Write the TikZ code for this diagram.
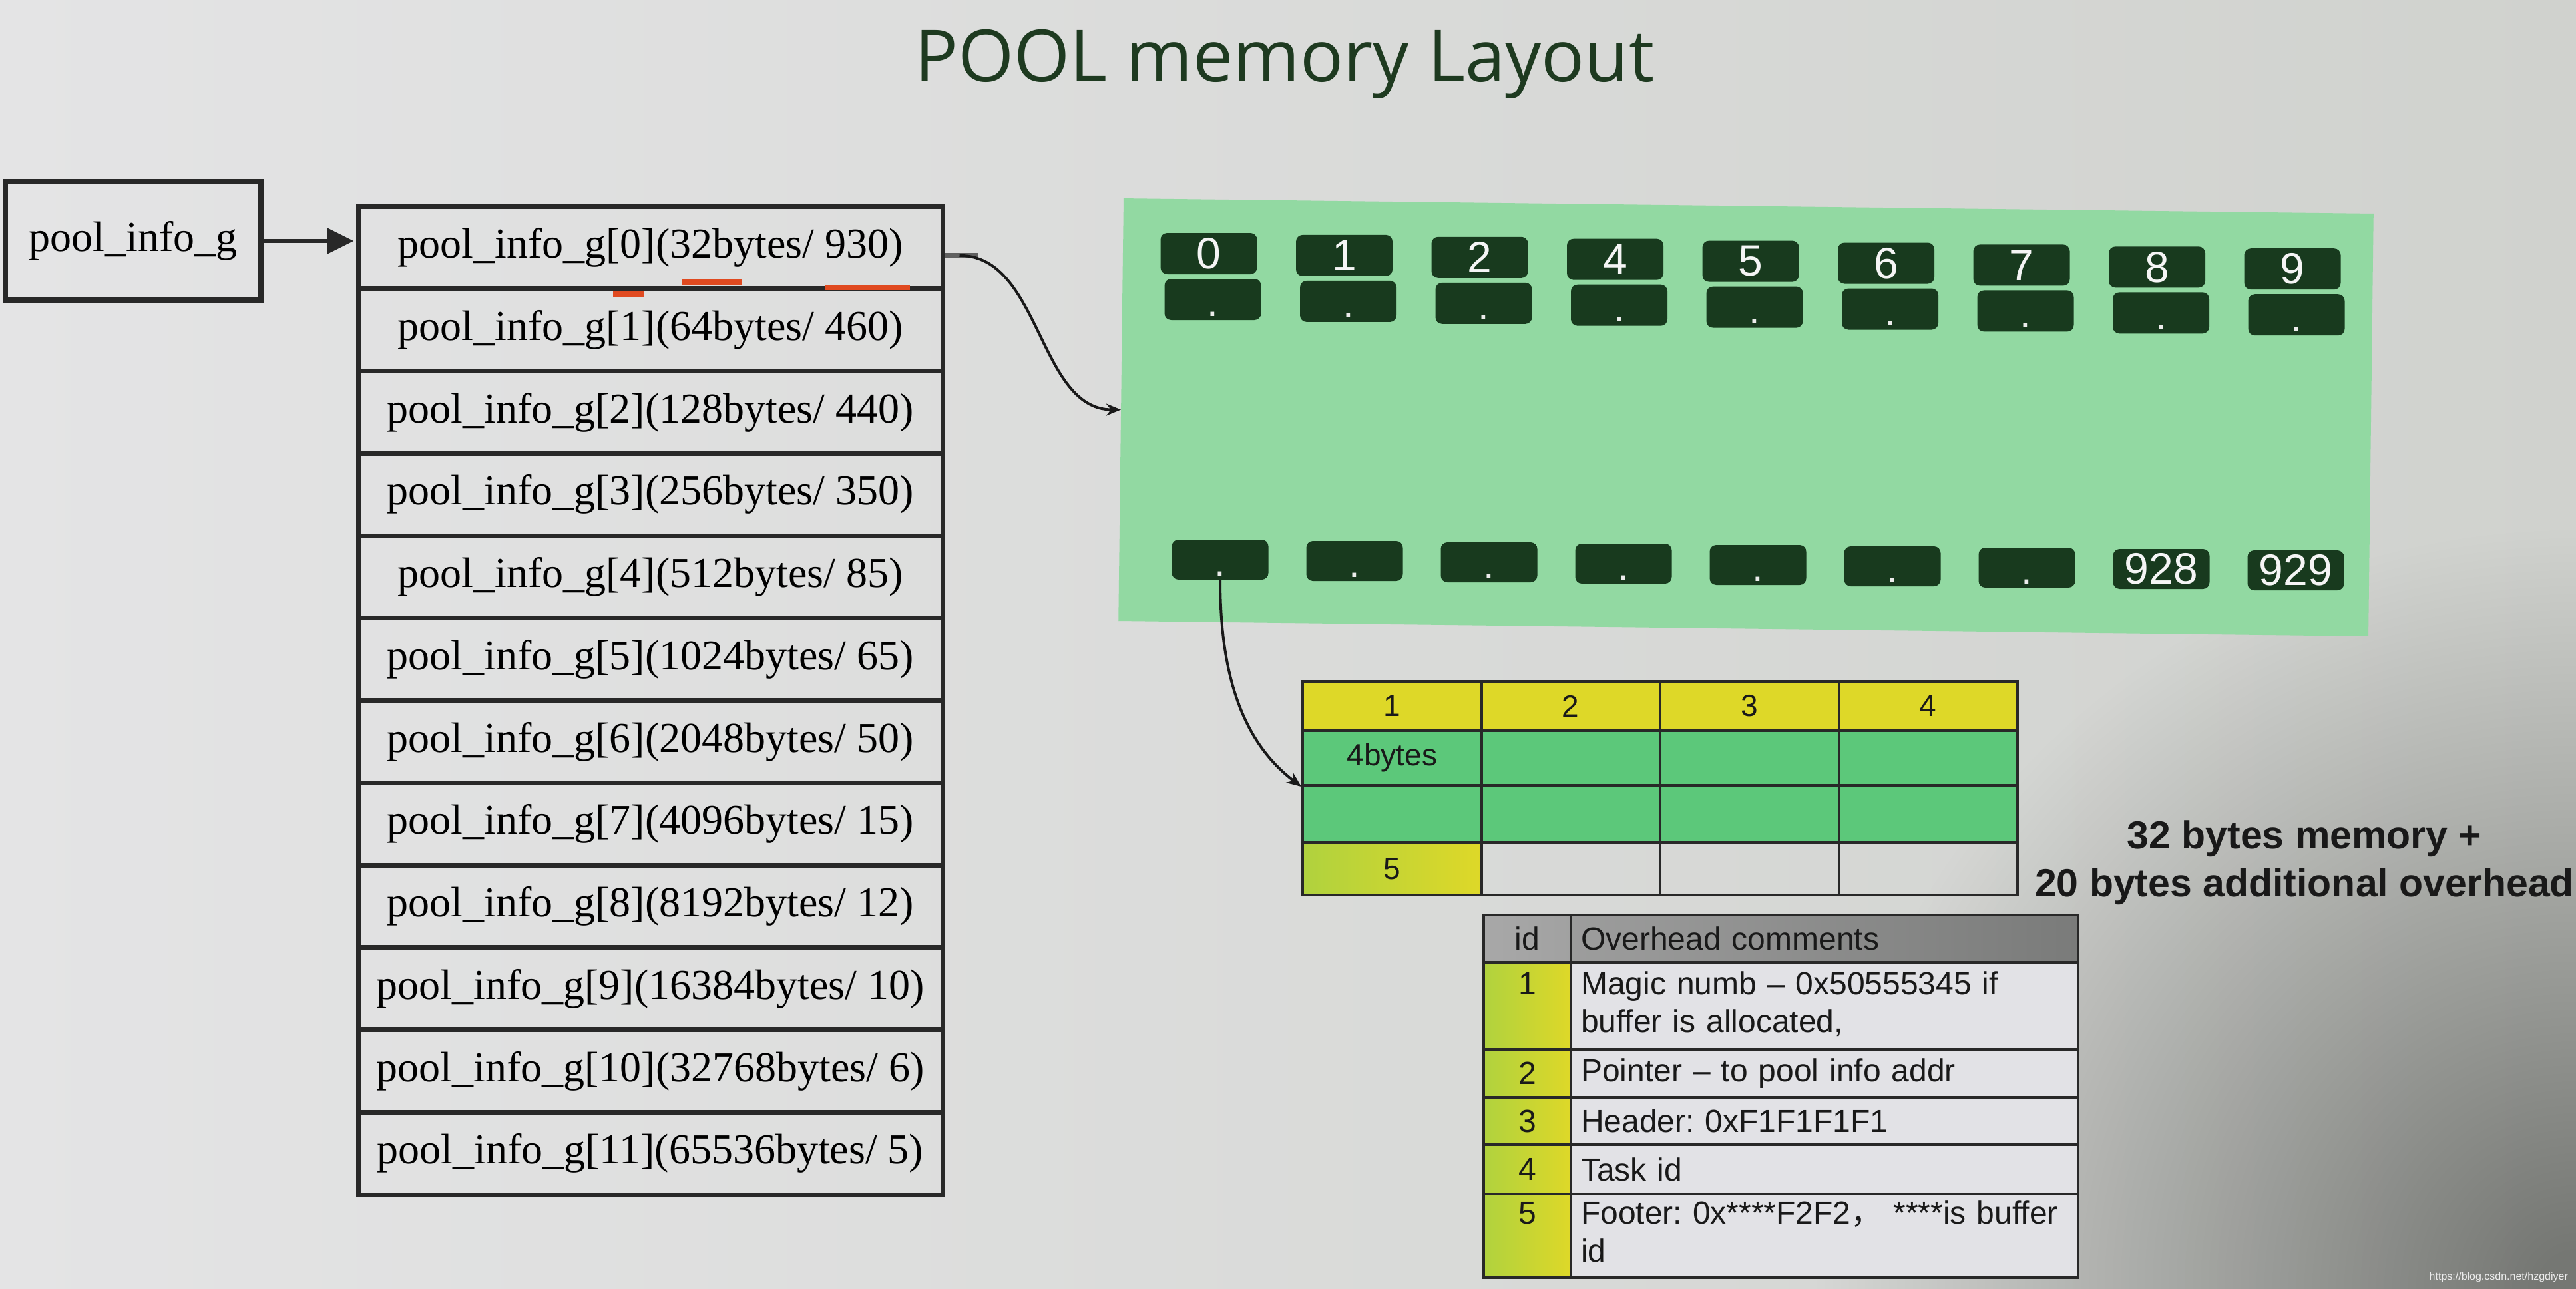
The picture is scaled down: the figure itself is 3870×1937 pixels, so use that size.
\documentclass[tikz,border=0pt]{standalone}
\usepackage{fontspec}
\setmainfont{Liberation Serif}
\newfontfamily\arialf{Liberation Sans}
\newfontfamily\serf{Liberation Serif}
\newfontfamily\titlef{Open Sans}
\newfontfamily\cjkf{Noto Sans CJK SC}
\usetikzlibrary{arrows.meta,calc}

\definecolor{bgL}{RGB}{228,228,229}
\definecolor{bgR}{RGB}{208,210,206}
\definecolor{vigc}{RGB}{92,93,88}
\definecolor{panelc}{RGB}{146,217,162}
\definecolor{boxc}{RGB}{24,58,30}
\definecolor{titlec}{RGB}{30,58,32}
\definecolor{linec}{RGB}{40,40,40}
\definecolor{yelc}{RGB}{222,216,40}
\definecolor{yelg}{RGB}{176,210,62}
\definecolor{grnc}{RGB}{92,200,122}
\definecolor{grayL}{RGB}{168,168,168}
\definecolor{grayD}{RGB}{122,123,122}
\definecolor{commc}{RGB}{226,226,230}
\definecolor{redc}{RGB}{224,74,32}

\tikzset{
  rowbox/.style={draw=linec, line width=7pt, minimum width=878pt, minimum height=123.75pt, inner sep=0pt, font={\serf\fontsize{64}{70}\selectfont}},
  numbox/.style={fill=boxc, rounded corners=10pt, minimum width=145pt, minimum height=62pt, inner sep=0pt, text=white!92!gray, font={\arialf\fontsize{66}{70}\selectfont}},
  dotbox/.style={fill=boxc, rounded corners=10pt, minimum width=145pt, inner sep=0pt, text height=56pt, text depth=6pt, text=white!85!gray, font={\arialf\fontsize{60}{64}\selectfont}},
  tcell/.style={draw=linec, line width=4pt, minimum width=268.5pt, inner sep=0pt, font={\arialf\fontsize{46}{52}\selectfont}, text=black!90},
  lcell/.style={draw=linec, line width=3.5pt, inner sep=0pt, font={\arialf\frenchspacing\fontsize{48}{57}\selectfont}, text=black!90},
  idcell/.style={lcell, minimum width=131pt, align=center, left color=yelg, right color=yelc},
  comcell/.style={lcell, minimum width=762pt, text width=732pt, align=left, inner xsep=15pt, fill=commc},
  curvearrow/.style={line width=4pt, black!90, -{Stealth[length=22pt,width=18pt]}},
  redline/.style={line width=8pt, redc}
}

\begin{document}
\begin{tikzpicture}[x=1pt,y=-1pt]
\useasboundingbox (0,0) rectangle (3870,1937);
\shade[left color=bgL, right color=bgR] (0,0) rectangle (3870,1937);
\begin{scope}
\clip (0,0) rectangle (3870,1937);
\foreach \r in {60,72,...,1150}{
  \fill[vigc, opacity=0.009] (3870,1937) circle (\r);
}
\end{scope}

% title
\node[font={\titlef\fontsize{108}{120}\selectfont}, text=titlec, anchor=base, inner sep=0pt] (title) at (1930,123) {POOL memory Layout};

% pool_info_g box
\node[draw=linec, line width=8pt, minimum width=384pt, minimum height=178pt, inner sep=0pt, font={\serf\fontsize{64}{70}\selectfont}] (pg) at (200,362) {pool\_info\_g};

% left table
\foreach \sz/\cnt [count=\i from 0] in {32/930,64/460,128/440,256/350,512/85,1024/65,2048/50,4096/15,8192/12,16384/10,32768/6,65536/5}{
  \node[rowbox] (r\i) at (977,{371.875+123.75*\i}) {pool\_info\_g[\i](\sz bytes/ \cnt)};
}
\draw[line width=6pt, linec, shorten >=3pt, -{Triangle[length=40pt,width=38pt]}] (pg.east) -- (pg.east -| r0.west);

% red underlines
\draw[redline] (1024,424) -- (1115,424);
\draw[redline] (1239,432) -- (1367,432);
\draw[redline] (921,442) -- (967,442);

% green panel
\node[fill=panelc, minimum width=1878pt, minimum height=635pt, rotate=-0.7, inner sep=0pt] (panel) at (2623,627) {};

% top row boxes
\foreach \lab [count=\i from 0] in {0,1,2,4,5,6,7,8,9}{
  \node[numbox] (n\i) at ({1816+203.5*\i},{381+2.9*\i}) {\lab};
  \node[dotbox] (d\i) at ({1822+203.5*\i},{450+2.9*\i}) {.};
}
% bottom row boxes
\foreach \i in {0,...,6}{
  \node[dotbox, text height=54pt] (b\i) at ({1833+202*\i},{841+2*\i}) {.};
}
\node[numbox, minimum height=60pt] (b7) at (3247,855) {928};
\node[numbox, minimum height=60pt] (b8) at (3449,857) {929};

% stub and curve from row 0 to panel
\coordinate (s0) at ([yshift=-12pt]r0.east);
\draw[line width=7pt, gray!75!black] (s0) -- ++(50,0);
\draw[curvearrow] ([xshift=22pt]s0) .. controls +(122,0) and +(-124,0) .. (panel.west);

% 4x4 table
\foreach \c [count=\i] in {1,2,3,4}{
  \node[tcell, fill=yelc, minimum height=74pt] (t1\i) at ({1822.75+268.5*\i},1061) {\c};
}
\node[tcell, fill=grnc, minimum height=82pt] (t21) at (2091.25,1139) {4bytes};
\foreach \i in {2,3,4}{
  \node[tcell, fill=grnc, minimum height=82pt] (t2\i) at ({1822.75+268.5*\i},1139) {};
}
\foreach \i in {1,2,3,4}{
  \node[tcell, fill=grnc, minimum height=86pt] (t3\i) at ({1822.75+268.5*\i},1223) {};
}
\node[tcell, left color=yelg, right color=yelc, minimum height=79pt] (t41) at (2091.25,1305.5) {5};
\foreach \i in {2,3,4}{
  \node[tcell, minimum height=79pt] (t4\i) at ({1822.75+268.5*\i},1305.5) {};
}

% curve from bottom box 0 to the table
\draw[curvearrow] (b0.south) .. controls +(0,140) and +(-90,-68) .. (t21.south west);

% note
\node[font={\arialf\bfseries\fontsize{59}{72}\selectfont}, align=center, text=black!90] (note) at (3462,1296) {32 bytes memory +\\20 bytes additional overhead};

% overhead table
\node[lcell, minimum width=131pt, minimum height=71pt, left color=grayL, right color=grayL!85!grayD] (hid) at (2294.5,1410.5) {id};
\node[comcell, minimum height=71pt, left color=grayL!75!grayD, right color=grayD] (hcom) at (2741,1410.5) {Overhead comments};

\node[idcell, minimum height=131pt] (i1) at (2294.5,1511.5) {\strut 1\\\strut};
\node[comcell, minimum height=131pt] (m1) at (2741,1511.5) {\strut Magic numb – 0x50555345 if\\\strut buffer is allocated,};
\node[idcell, minimum height=72pt] (i2) at (2294.5,1613) {2};
\node[comcell, minimum height=72pt] (m2) at (2741,1613) {Pointer – to pool info addr};
\node[idcell, minimum height=71pt] (i3) at (2294.5,1684.5) {3};
\node[comcell, minimum height=71pt] (m3) at (2741,1684.5) {Header: 0xF1F1F1F1};
\node[idcell, minimum height=74pt] (i4) at (2294.5,1757) {4};
\node[comcell, minimum height=74pt] (m4) at (2741,1757) {Task id};
\node[idcell, minimum height=126pt] (i5) at (2294.5,1857) {\strut 5\\\strut};
\node[comcell, minimum height=126pt] (m5) at (2741,1857) {\strut Footer: 0x****F2F2{\cjkf ，} ****is buffer\\\strut id};

% watermark
\node[font={\arialf\fontsize{16}{18}\selectfont}, text=white!85!gray, anchor=base east, inner sep=0pt] (wm) at (3858,1923) {https://blog.csdn.net/hzgdiyer};
\end{tikzpicture}
\end{document}
